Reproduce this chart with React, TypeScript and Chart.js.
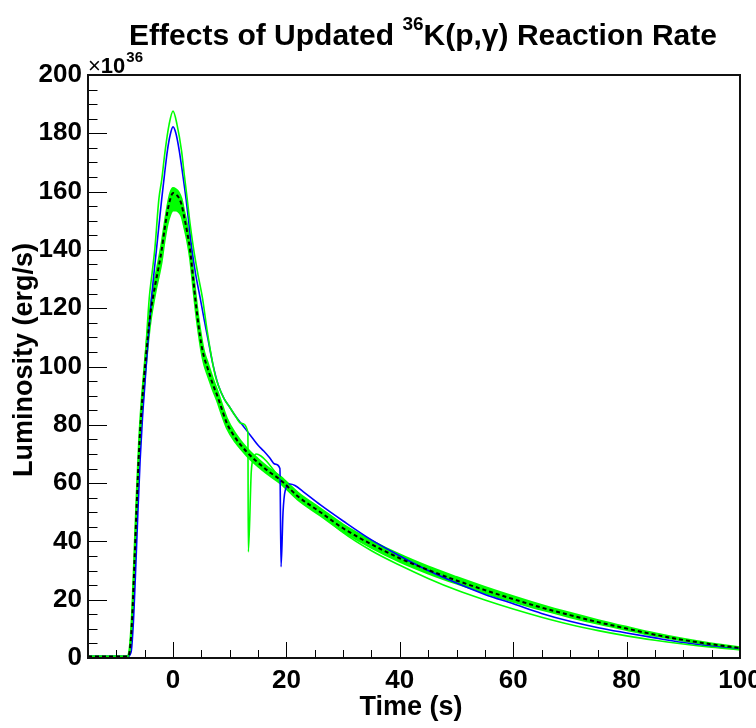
import { useEffect, useRef } from 'react';
import { Chart, registerables } from 'chart.js';

Chart.register(...registerables);

const FONT = "'Liberation Sans', Arial, Helvetica, sans-serif";

// X axis tick labels and Y axis tick labels
const xTickValues = [0, 20, 40, 60, 80, 100];
const yTickValues = [0, 20, 40, 60, 80, 100, 120, 140, 160, 180, 200];

// Blue curve (luminosity in units of 1e36 erg/s)
const blueTime = [-15, -8, -7.4, -7, -6.6, -6.2, -5.8, -5.4, -5, -4.4, -3.8, -2.9, -2.4, -2, -1.5, -1, -0.5, 0, 0.5, 1.1, 1.7, 2.3, 2.8, 3.3, 4, 4.8, 5.5, 6.2, 7, 8, 9, 10, 11, 12, 13, 14, 15, 16, 17, 18, 18.85, 19.05, 19.4, 19.8, 20.6, 21.5, 23, 26, 30, 35, 40, 45, 50, 55, 60, 65, 70, 75, 80, 85, 90, 95, 100];
const blueLum = [0.5, 0.5, 2, 12, 30, 50, 68, 82, 93, 109, 123.4, 140.6, 150, 157.4, 166, 174, 179.5, 182.2, 180, 174, 166, 157.4, 149, 140.6, 131.5, 123.4, 116, 109, 101, 93.5, 89, 86, 83, 80.5, 78, 75.5, 73, 71, 68.8, 66.5, 65, 31.3, 50, 57.6, 59.7, 59.2, 57, 52.5, 47, 40.5, 35, 30, 25.7, 21.8, 18.6, 15.3, 12.6, 10.4, 8.6, 6.9, 5.3, 4, 3];

// Green curve (with spike near 13 s)
const greenTime = [-15, -8, -7.6, -7.2, -6.8, -6.4, -6, -5.6, -5.2, -4.8, -4.2, -3.7, -3.2, -2.5, -2, -1.4, -0.7, 0, 0.7, 1.5, 2, 2.5, 3, 3.6, 4.4, 5.2, 6, 7, 7.5, 8, 9, 10, 11, 12, 13.2, 13.28, 13.8, 14.2, 14.7, 15.5, 16.5, 18, 19, 20, 22, 25, 30, 35, 40, 45, 50, 55, 60, 65, 70, 75, 80, 85, 90, 95, 100];
const greenLum = [0.5, 0.5, 3, 15, 34, 54, 71, 84, 95, 106, 123.4, 132, 140.6, 157.4, 164, 174, 183, 187.6, 183, 174, 165.5, 157.4, 149, 140.6, 131.5, 123.4, 112.5, 101, 96.5, 93.5, 89, 86, 83, 80.5, 77.5, 36.4, 64, 68.5, 70, 69.3, 67.5, 63.8, 61.7, 60, 56.5, 51.3, 43, 36.8, 31.8, 27.3, 23.3, 19.9, 16.8, 14, 11.5, 9.4, 7.6, 6.1, 4.8, 3.7, 2.8];

// Uncertainty band: central (dashed), upper and lower edges
const bandTime = [-15, -8, -7.6, -7.2, -6.8, -6.4, -6, -5.6, -5.2, -4.8, -4.4, -4, -3.6, -3, -2.5, -2, -1.5, -1, -0.5, 0, 0.5, 1, 1.5, 2, 2.5, 3, 3.5, 4, 4.5, 5, 5.5, 6, 6.5, 7, 7.8, 8.5, 9.5, 11, 13, 15, 17, 19, 22, 26, 30, 35, 40, 45, 50, 55, 60, 65, 70, 75, 80, 85, 90, 95, 100];
const bandCentral = [0.5, 0.5, 3, 14, 33, 53, 71, 84, 94, 103, 111, 118, 123, 129.5, 134.5, 140, 147, 153, 157.4, 159.5, 159, 158, 155.5, 151, 146, 140, 131, 122, 114, 107.5, 103, 100, 97, 94, 90, 86, 80.5, 75.5, 70.7, 67, 63.8, 61, 55.5, 50, 44.5, 39, 34.2, 30.2, 26.6, 23.3, 20.2, 17.3, 14.7, 12.3, 10.1, 8, 6.2, 4.7, 3.4];
const bandUpper = [0.6, 0.6, 4.5, 17, 37, 57, 74.5, 87, 96.5, 105.5, 113.5, 120.5, 125.5, 132, 137, 142.5, 149, 155, 159.5, 161.2, 160.8, 159.8, 157.5, 153, 148.5, 142.5, 133.5, 124.5, 116.5, 110, 105, 102, 99, 96, 91.8, 87.8, 82.2, 77, 72, 68.3, 65, 62.2, 56.8, 51.3, 45.8, 40.3, 35.5, 31.4, 27.8, 24.4, 21.2, 18.2, 15.5, 13, 10.7, 8.5, 6.6, 5, 3.7];
const bandLower = [0.4, 0.4, 2, 11, 29, 49, 67.5, 81, 91, 100, 108, 115, 120, 126.5, 131, 136, 143, 148.5, 152, 153.5, 153.5, 153, 151.5, 147.5, 143, 137, 128, 119, 111.5, 105, 100.5, 97.5, 94.8, 92, 88, 84, 78.8, 74, 69.4, 65.7, 62.6, 59.8, 54.3, 48.8, 43.3, 37.8, 33, 29, 25.5, 22.3, 19.3, 16.5, 14, 11.7, 9.6, 7.6, 5.9, 4.4, 3.1];

const toPoints = (t: number[], v: number[]) => t.map((x, i) => ({ x, y: v[i] }));

const overlayPlugin = {
  id: 'rootOverlay',
  afterDraw(chart: any) {
    const { ctx, chartArea: a, scales } = chart;
    const xs = scales.x;
    const ys = scales.y;
    ctx.save();
    // inward ticks
    ctx.strokeStyle = '#000';
    ctx.lineWidth = 1;
    for (let v = -15; v <= 100; v += 5) {
      const px = Math.round(xs.getPixelForValue(v)) + 0.5;
      const len = v % 20 === 0 ? 16 : 8;
      ctx.beginPath();
      ctx.moveTo(px, a.bottom);
      ctx.lineTo(px, a.bottom - len);
      ctx.stroke();
    }
    for (let v = 0; v <= 200; v += 5) {
      const py = Math.round(ys.getPixelForValue(v)) + 0.5;
      const len = v % 20 === 0 ? 19 : 9.5;
      ctx.beginPath();
      ctx.moveTo(a.left, py);
      ctx.lineTo(a.left + len, py);
      ctx.stroke();
    }
    // frame
    ctx.lineWidth = 2;
    ctx.strokeStyle = '#111';
    ctx.strokeRect(a.left, a.top, a.right - a.left, a.bottom - a.top);

    ctx.fillStyle = '#000';
    // main title
    const main1 = 'Effects of Updated ';
    const sup = '36';
    const main2 = 'K(p,\u03b3) Reaction Rate';
    const big = `bold 30px ${FONT}`;
    const small = `bold 19px ${FONT}`;
    ctx.font = big;
    const w1 = ctx.measureText(main1).width;
    const w3 = ctx.measureText(main2).width;
    ctx.font = small;
    const w2 = ctx.measureText(sup).width;
    const total = w1 + w2 + w3;
    let sx = 423 - total / 2;
    const base = 45;
    ctx.textBaseline = 'alphabetic';
    ctx.textAlign = 'left';
    ctx.font = big;
    ctx.fillText(main1, sx, base);
    sx += w1;
    ctx.font = small;
    ctx.fillText(sup, sx, base - 15);
    sx += w2;
    ctx.font = big;
    ctx.fillText(main2, sx, base);

    // exponent label
    ctx.font = `22px ${FONT}`;
    ctx.fillText('\u00d7', a.left, 73);
    const wx = ctx.measureText('\u00d7').width;
    ctx.font = `bold 22px ${FONT}`;
    ctx.fillText('10', a.left + wx, 73);
    const w10 = ctx.measureText('10').width;
    ctx.font = `bold 15px ${FONT}`;
    ctx.fillText('36', a.left + wx + w10 + 1, 62);

    // axis titles
    ctx.font = `bold 27px ${FONT}`;
    ctx.textAlign = 'center';
    ctx.fillText('Time (s)', 411, 715);
    ctx.save();
    ctx.translate(32, 360);
    ctx.rotate(-Math.PI / 2);
    ctx.fillText('Luminosity (erg/s)', 0, 0);
    ctx.restore();
    ctx.restore();
  },
};

export default function App() {
  const ref = useRef<HTMLCanvasElement | null>(null);
  useEffect(() => {
    document.body.style.margin = '0';
    const canvas = ref.current;
    if (!canvas) return;
    const common = {
      pointRadius: 0,
      cubicInterpolationMode: 'monotone' as const,
      fill: false,
    };
    const chart = new Chart(canvas, {
      type: 'line',
      data: {
        datasets: [
          {
            ...common,
            label: 'central',
            data: toPoints(bandTime, bandCentral),
            borderColor: '#000000',
            borderWidth: 2,
            borderDash: [4, 3],
          },
          {
            ...common,
            label: 'green',
            data: toPoints(greenTime, greenLum),
            borderColor: '#00ff00',
            borderWidth: 1.6,
          },
          {
            ...common,
            label: 'blue',
            data: toPoints(blueTime, blueLum),
            borderColor: '#0000ff',
            borderWidth: 1.6,
          },
          {
            ...common,
            label: 'band upper',
            data: toPoints(bandTime, bandUpper),
            borderColor: '#00ff00',
            borderWidth: 2,
            fill: '+1',
            backgroundColor: '#00ff00',
          },
          {
            ...common,
            label: 'band lower',
            data: toPoints(bandTime, bandLower),
            borderColor: '#00ff00',
            borderWidth: 2,
          },
        ],
      },
      options: {
        responsive: false,
        animation: false,
        layout: { padding: { left: 0, top: 75, right: 16, bottom: 0 } },
        plugins: {
          legend: { display: false },
          tooltip: { enabled: false },
          title: { display: false },
        },
        scales: {
          x: {
            type: 'linear',
            min: -15,
            max: 100,
            grid: { display: false, drawTicks: false },
            border: { display: false },
            afterBuildTicks: (s: any) => {
              s.ticks = xTickValues.map((v) => ({ value: v }));
            },
            afterFit: (s: any) => {
              s.height = 70;
              s.paddingLeft = 0;
              s.paddingRight = 0;
            },
            ticks: {
              font: { family: FONT, size: 26, weight: 'bold' },
              color: '#000',
              padding: 7,
              maxRotation: 0,
              autoSkip: false,
            },
          },
          y: {
            type: 'linear',
            min: 0,
            max: 200,
            grid: { display: false, drawTicks: false },
            border: { display: false },
            afterBuildTicks: (s: any) => {
              s.ticks = yTickValues.map((v) => ({ value: v }));
            },
            afterFit: (s: any) => {
              s.width = 88;
              s.paddingTop = 0;
              s.paddingBottom = 0;
            },
            ticks: {
              font: { family: FONT, size: 26, weight: 'bold' },
              color: '#000',
              padding: 6,
              autoSkip: false,
            },
          },
        },
      },
      plugins: [overlayPlugin],
    });
    return () => chart.destroy();
  }, []);
  return (
    <div style={{ width: 756, height: 728 }}>
      <canvas ref={ref} width={756} height={728} style={{ display: 'block' }} />
    </div>
  );
}
